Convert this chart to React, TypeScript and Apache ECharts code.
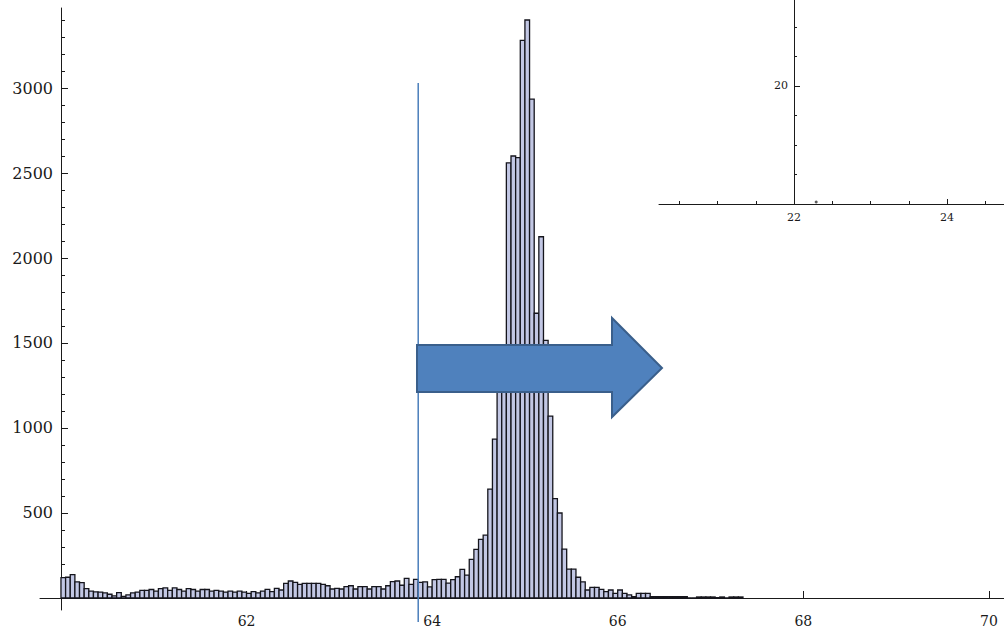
import React, { useEffect, useRef } from "react";
import * as echarts from "echarts";

// Histogram bins (uniform width) and counts
const BIN_START = 60;
const BIN_WIDTH = 0.05;
const counts = [
  120, 122, 138, 95, 90, 55, 40, 36, 35, 30,
  22, 12, 32, 10, 18, 30, 35, 45, 45, 50,
  40, 55, 60, 45, 60, 50, 40, 55, 50, 40,
  50, 50, 40, 45, 40, 35, 40, 35, 40, 35,
  27, 37, 30, 40, 51, 37, 57, 47, 86, 100,
  92, 80, 86, 86, 86, 86, 80, 72, 53, 57,
  53, 67, 72, 53, 67, 67, 53, 67, 67, 53,
  72, 96, 100, 75, 115, 80, 110, 92, 95, 65,
  108, 110, 110, 88, 108, 125, 168, 135, 227, 286,
  345, 370, 640, 935, 1300, 1430, 2560, 2600, 2590, 3280,
  3400, 2935, 1675, 2125, 1515, 1070, 585, 500, 288, 170,
  170, 122, 95, 47, 63, 63, 51, 37, 47, 27,
  47, 27, 18, 8, 27, 27, 27, 8, 8, 8,
  8, 8, 8, 8, 8, 0, 0, 6, 6, 6,
  6, 2, 6, 0, 6, 6, 6,
];

const xTickValues = [62, 64, 66, 68, 70];
const yMajorTicks = [500, 1000, 1500, 2000, 2500, 3000];
const yMinorTicks = [
  100, 200, 300, 400, 600, 700, 800, 900, 1100, 1200, 1300, 1400,
  1600, 1700, 1800, 1900, 2100, 2200, 2300, 2400, 2600, 2700, 2800, 2900,
  3100, 3200, 3300, 3400,
];

// inset (top right)
const insetXMajor = [22, 24];
const insetXMinor = [20.5, 21, 21.5, 22.5, 23, 23.5, 24.5];
const insetYMajor = [20];
const insetYMinor = [17, 18, 19, 21, 22];
const insetPoints = [[22.29, 16.07]];

// vertical marker line
const MARKER_X = 63.85;
const MARKER_TOP = 3030;
const MARKER_BOTTOM = -141;

const FONT = "DejaVu Serif";
const AXIS_COLOR = "#1a1a1a";

const plain = (v: number) => String(v);

export default function App() {
  const ref = useRef<HTMLDivElement>(null);

  useEffect(() => {
    document.body.style.margin = "0";
    const chart = echarts.init(ref.current!, null, { renderer: "svg" });

    const bins = counts.map((c, i) => [
      BIN_START + i * BIN_WIDTH,
      BIN_START + (i + 1) * BIN_WIDTH,
      c,
    ]);

    const lineStyle = { color: AXIS_COLOR, width: 1 };

    const option: any = {
      animation: false,
      backgroundColor: "#ffffff",
      grid: [
        { left: 40, right: 0, top: 8, bottom: 20 },
        { left: 659, right: 0, top: 0, bottom: 426 },
      ],
      xAxis: [
        {
          type: "value",
          gridIndex: 0,
          position: "bottom",
          min: 59.774,
          max: 70.163,
          axisLine: { show: true, onZero: true, lineStyle },
          axisTick: { show: true, inside: true, length: 7, customValues: xTickValues, lineStyle },
          axisLabel: {
            show: true,
            customValues: xTickValues,
            formatter: plain,
            margin: 4,
            fontFamily: FONT,
            fontSize: 14,
            color: AXIS_COLOR,
          },
          splitLine: { show: false },
        },
        {
          type: "value",
          gridIndex: 1,
          position: "bottom",
          min: 20.235,
          max: 24.745,
          axisLine: { show: true, onZero: false, lineStyle },
          axisTick: { show: true, inside: true, length: 5, customValues: insetXMajor, lineStyle },
          axisLabel: {
            show: true,
            customValues: insetXMajor,
            formatter: plain,
            margin: 8,
            fontFamily: FONT,
            fontSize: 11,
            color: AXIS_COLOR,
          },
          splitLine: { show: false },
        },
        {
          type: "value",
          gridIndex: 1,
          position: "bottom",
          min: 20.235,
          max: 24.745,
          axisLine: { show: false, onZero: false },
          axisTick: { show: true, inside: true, length: 3, customValues: insetXMinor, lineStyle },
          axisLabel: { show: false },
          splitLine: { show: false },
        },
      ],
      yAxis: [
        {
          type: "value",
          gridIndex: 0,
          position: "left",
          offset: -21,
          min: -70.6,
          max: 3470.6,
          axisLine: { show: true, onZero: false, lineStyle },
          axisTick: { show: true, inside: true, length: 7, customValues: yMajorTicks, lineStyle },
          axisLabel: {
            show: true,
            customValues: yMajorTicks,
            formatter: plain,
            margin: 8,
            fontFamily: FONT,
            fontSize: 16,
            color: AXIS_COLOR,
          },
          splitLine: { show: false },
        },
        {
          type: "value",
          gridIndex: 0,
          position: "left",
          offset: -21,
          min: -70.6,
          max: 3470.6,
          axisLine: { show: false, onZero: false },
          axisTick: { show: true, inside: true, length: 4, customValues: yMinorTicks, lineStyle },
          axisLabel: { show: false },
          splitLine: { show: false },
        },
        {
          type: "value",
          gridIndex: 1,
          position: "left",
          offset: -135,
          min: 16,
          max: 22.915,
          axisLine: { show: true, onZero: false, lineStyle },
          axisTick: { show: true, inside: true, length: 6, customValues: insetYMajor, lineStyle },
          axisLabel: {
            show: true,
            customValues: insetYMajor,
            formatter: plain,
            margin: 6,
            fontFamily: FONT,
            fontSize: 11,
            color: AXIS_COLOR,
          },
          splitLine: { show: false },
        },
        {
          type: "value",
          gridIndex: 1,
          position: "left",
          offset: -135,
          min: 16,
          max: 22.915,
          axisLine: { show: false, onZero: false },
          axisTick: { show: true, inside: true, length: 3, customValues: insetYMinor, lineStyle },
          axisLabel: { show: false },
          splitLine: { show: false },
        },
      ],
      series: [
        {
          type: "custom",
          xAxisIndex: 0,
          yAxisIndex: 0,
          data: bins,
          encode: { x: [0, 1], y: 2 },
          renderItem: (params: any, api: any) => {
            const x0 = api.value(0);
            const x1 = api.value(1);
            const c = api.value(2);
            const p0 = api.coord([x0, 0]);
            const p1 = api.coord([x1, c]);
            return {
              type: "rect",
              shape: {
                x: p0[0],
                y: p1[1],
                width: p1[0] - p0[0],
                height: p0[1] - p1[1],
              },
              style: { fill: "#c2c7e4", stroke: "#15151c", lineWidth: 1.3 },
            };
          },
          z: 2,
        },
        {
          type: "scatter",
          xAxisIndex: 1,
          yAxisIndex: 2,
          data: insetPoints,
          symbolSize: 3,
          itemStyle: { color: "#333" },
        },
      ],
    };

    chart.setOption(option);

    const top = chart.convertToPixel({ xAxisIndex: 0, yAxisIndex: 0 } as any, [MARKER_X, MARKER_TOP]) as number[];
    const bot = chart.convertToPixel({ xAxisIndex: 0, yAxisIndex: 0 } as any, [MARKER_X, MARKER_BOTTOM]) as number[];

    chart.setOption({
      graphic: [
        {
          type: "line",
          z: 100,
          shape: { x1: top[0], y1: top[1], x2: bot[0], y2: bot[1] },
          style: { stroke: "#4a7ebb", lineWidth: 1.5 },
        },
        {
          type: "polygon",
          z: 101,
          shape: {
            points: [
              [417, 345],
              [612, 345],
              [612, 318],
              [662, 368],
              [612, 417],
              [612, 392],
              [417, 392],
            ],
          },
          style: { fill: "#4f81bd", stroke: "#3a5f8b", lineWidth: 2 },
        },
      ],
    });

    return () => chart.dispose();
  }, []);

  return (
    <div
      ref={ref}
      style={{ position: "fixed", left: 0, top: 0, width: 1004, height: 630 }}
    />
  );
}
